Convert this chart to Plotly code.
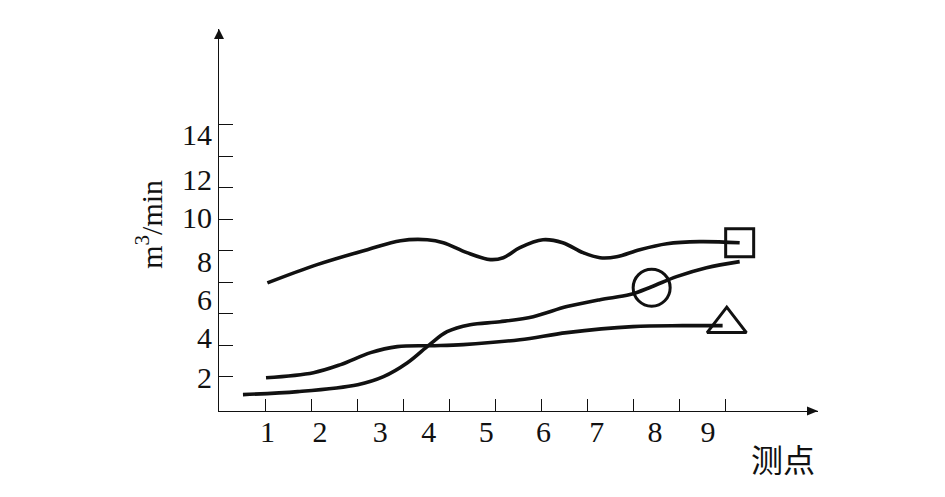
import plotly.graph_objects as go

# ---- data ----
# series ending in the square marker
sq_x = [1.05, 2.13, 3.22, 3.94, 4.52, 4.87, 5.38, 5.89, 6.17, 6.53, 7.03, 7.46, 7.90, 8.27, 8.63, 9.13, 9.72, 10.43, 11.30]
sq_y = [7.96, 9.12, 10.07, 10.64, 10.70, 10.51, 9.88, 9.44, 9.56, 10.20, 10.70, 10.51, 9.88, 9.56, 9.62, 10.07, 10.45, 10.58, 10.51]
# series carrying the circle marker
ci_x = [0.52, 1.71, 3.01, 3.57, 4.09, 4.57, 4.95, 5.45, 6.10, 6.82, 7.55, 8.27, 8.92, 9.39, 9.93, 10.58, 11.30]
ci_y = [0.88, 1.07, 1.51, 2.02, 2.90, 4.05, 4.87, 5.31, 5.50, 5.82, 6.46, 6.90, 7.22, 7.72, 8.36, 8.93, 9.31]
# series ending in the triangle marker
tr_x = [1.02, 2.05, 2.64, 3.29, 3.87, 4.59, 5.30, 6.53, 7.55, 8.98, 10.06, 10.93]
tr_y = [1.95, 2.27, 2.78, 3.54, 3.92, 3.98, 4.05, 4.36, 4.81, 5.19, 5.25, 5.25]
# marker points
sq_mark = ([11.30], [10.51])
ci_mark = ([9.39], [7.66])
tr_mark = ([11.02], [5.35])

# axis tick marks and (offset) tick labels as drawn in the reference
x_tick_marks = [1, 2, 3, 4, 5, 6, 7, 8, 9, 10, 11]
x_label_vals = [1.05, 2.19, 3.50, 4.55, 5.80, 7.04, 8.20, 9.46, 10.61]
x_label_text = ["1", "2", "3", "4", "5", "6", "7", "8", "9"]
y_tick_marks = [2, 4, 6, 8, 10, 12, 14, 16, 18]
y_label_vals = [1.95, 4.49, 6.90, 9.31, 12.10, 14.51, 17.36]
y_label_text = ["2", "4", "6", "8", "10", "12", "14"]

X_RANGE = [0, 13]
Y_RANGE = [-0.16, 24.06]

SERIF = "Liberation Serif, Times New Roman, serif"
LW = 3.6

fig = go.Figure()
for xs, ys in [(sq_x, sq_y), (ci_x, ci_y), (tr_x, tr_y)]:
    fig.add_trace(go.Scatter(x=xs, y=ys, mode="lines",
                             line=dict(color="#111111", width=LW, shape="spline", smoothing=1.0),
                             showlegend=False, hoverinfo="skip"))

for (mx, my), sym, size in [(sq_mark, "square-open", 28), (ci_mark, "circle-open", 37), (tr_mark, "triangle-up-open", 34)]:
    fig.add_trace(go.Scatter(x=mx, y=my, mode="markers",
                             marker=dict(symbol=sym, size=size, color="#111111",
                                         line=dict(color="#111111", width=3)),
                             showlegend=False, hoverinfo="skip"))

# dummy trace to instantiate label axes
fig.add_trace(go.Scatter(x=[None], y=[None], xaxis="x2", yaxis="y2", showlegend=False, hoverinfo="skip"))

axis_common = dict(showgrid=False, zeroline=False)
fig.update_layout(
    width=945, height=497, autosize=False,
    margin=dict(l=211, r=135, t=21, b=94),
    paper_bgcolor="white", plot_bgcolor="white",
    xaxis=dict(range=X_RANGE, tickvals=x_tick_marks, ticks="inside", ticklen=12, tickwidth=1.3,
               tickcolor="#111111", showticklabels=False, showline=True, linecolor="#111111",
               linewidth=1.3, **axis_common),
    yaxis=dict(range=Y_RANGE, tickvals=y_tick_marks, ticks="inside", ticklen=14, tickwidth=1.3,
               tickcolor="#111111", showticklabels=False, showline=True, linecolor="#111111",
               linewidth=1.3, **axis_common),
    xaxis2=dict(range=X_RANGE, overlaying="x", side="bottom", anchor="y2", tickvals=x_label_vals,
                ticktext=x_label_text, ticks="", showline=False,
                tickfont=dict(family=SERIF, size=30, color="#111111"), **axis_common),
    yaxis2=dict(range=Y_RANGE, overlaying="y", side="left", anchor="x2", tickvals=y_label_vals,
                ticktext=y_label_text, ticks="", showline=False, ticklabelstandoff=6,
                tickfont=dict(family=SERIF, size=30, color="#111111"), **axis_common),
    shapes=[
        dict(type="path", xref="paper", yref="paper",
             path="M 1,0 L 0.98164,0.01178 L 0.98164,-0.01178 Z",
             fillcolor="#111111", line=dict(width=0)),
        dict(type="path", xref="paper", yref="paper",
             path="M 0,1 L 0.00835,0.97382 L -0.00835,0.97382 Z",
             fillcolor="#111111", line=dict(width=0)),
    ],
    annotations=[
        dict(text="m<sup>3</sup>/min", xref="paper", yref="paper", x=-0.117, y=0.49,
             textangle=-90, showarrow=False, xanchor="center", yanchor="middle",
             font=dict(family=SERIF, size=30, color="#111111")),
        dict(text="测点", xref="paper", yref="paper", x=0.9416, y=-0.123,
             showarrow=False, xanchor="center", yanchor="middle",
             font=dict(family="Noto Sans CJK SC", size=32, color="#111111")),
    ],
)

fig.write_html("out.html")
